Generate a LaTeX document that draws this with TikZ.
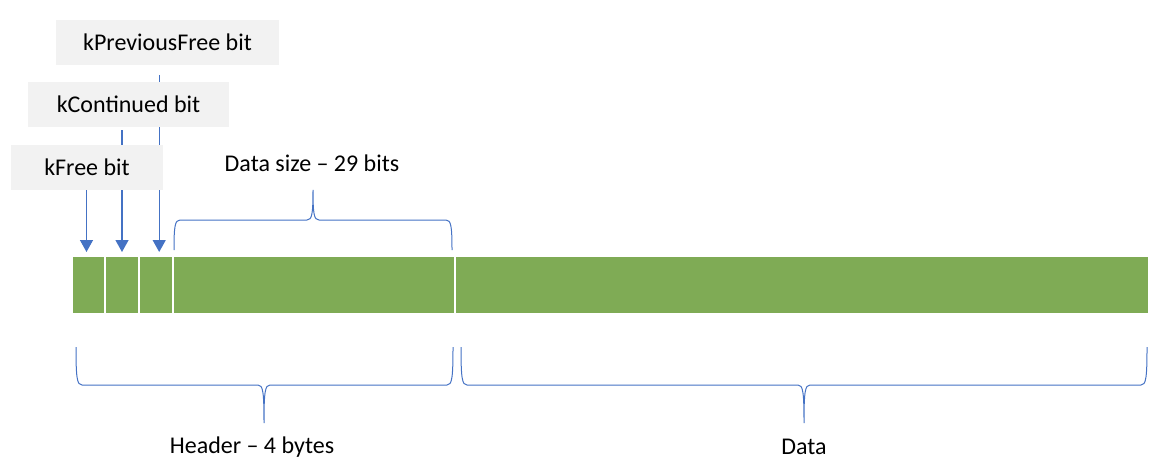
\documentclass[tikz,border=0pt]{standalone}
\usepackage{fontspec}
\setmainfont{Carlito}
\usetikzlibrary{positioning,arrows.meta,backgrounds}

\definecolor{cellgreen}{HTML}{7FAB55}
\definecolor{linkblue}{HTML}{4472C4}
\definecolor{labelgray}{HTML}{F2F2F2}

\tikzset{
    cell/.style={fill=cellgreen, inner sep=0pt, outer sep=0pt, minimum height=28pt},
    bitlabel/.style={fill=labelgray, inner sep=0pt, outer sep=0pt, minimum height=22.5pt},
    bitarrow/.style={linkblue, line width=0.65pt, -{Triangle[width=6.5pt,length=6pt]}},
    brace/.style={linkblue, line width=0.5pt},
}

\begin{document}
\begin{tikzpicture}[x=0.5pt, y=-0.5pt, font=\fontsize{12}{14}\selectfont, node distance=1pt]
\useasboundingbox (0,0) rectangle (1166,476);

% header and data cells
\node[cell, minimum width=15.5pt] (c1) at (88.5,285) {};
\node[cell, minimum width=16pt, right=of c1] (c2) {};
\node[cell, minimum width=16pt, right=of c2] (c3) {};
\node[cell, minimum width=140pt, right=of c3] (c4) {};
\node[cell, minimum width=346pt, right=of c4] (data) {};

% bit labels
\node[bitlabel, minimum width=111.5pt] (kprev) at (167.5,42.5) {kPreviousFree bit};
\node[bitlabel, minimum width=100.5pt] (kcont) at (128.5,104.5) {kContinued bit};
\node[bitlabel, minimum width=76pt] (kfree) at (87,167.5) {kFree bit};

\begin{scope}[on background layer]
    \draw[bitarrow, shorten >=2.5pt] ([xshift=-1pt]c1.north |- kfree.south) -- ([xshift=-1pt]c1.north);
    \draw[bitarrow, shorten >=2.5pt, shorten <=1.5pt] (c2.north |- kcont.south) -- (c2.north);
    \draw[bitarrow, shorten >=2.5pt, shorten <=5pt] ([xshift=1.6pt]c3.north |- kprev.south) -- ([xshift=1.6pt]c3.north);
\end{scope}

% braces
\draw[brace] (174,250) .. controls (174,226) and (175,220) .. (180,220) -- (307,220)
    .. controls (312,220) and (313,214) .. (313,190)
    .. controls (313,214) and (314,220) .. (319,220) -- (446,220)
    .. controls (451,220) and (452,226) .. (452,250);
\draw[brace] (76,347) .. controls (76,378) and (77,385) .. (82,385) -- (258,385)
    .. controls (263,385) and (264,392) .. (264,423)
    .. controls (264,392) and (265,385) .. (270,385) -- (447,385)
    .. controls (452,385) and (453,378) .. (453,347);
\draw[brace] (461,347) .. controls (461,378) and (462,385) .. (467,385) -- (798,385)
    .. controls (803,385) and (804,392) .. (804,423)
    .. controls (804,392) and (805,385) .. (810,385) -- (1141,385)
    .. controls (1146,385) and (1147,378) .. (1147,347);

\node (sizelabel) at (312,163) {Data size -- 29 bits};
\node (headerlabel) at (252,447) {Header -- 4 bytes};
\node (datalabel) at (804,447) {Data};
\end{tikzpicture}
\end{document}
